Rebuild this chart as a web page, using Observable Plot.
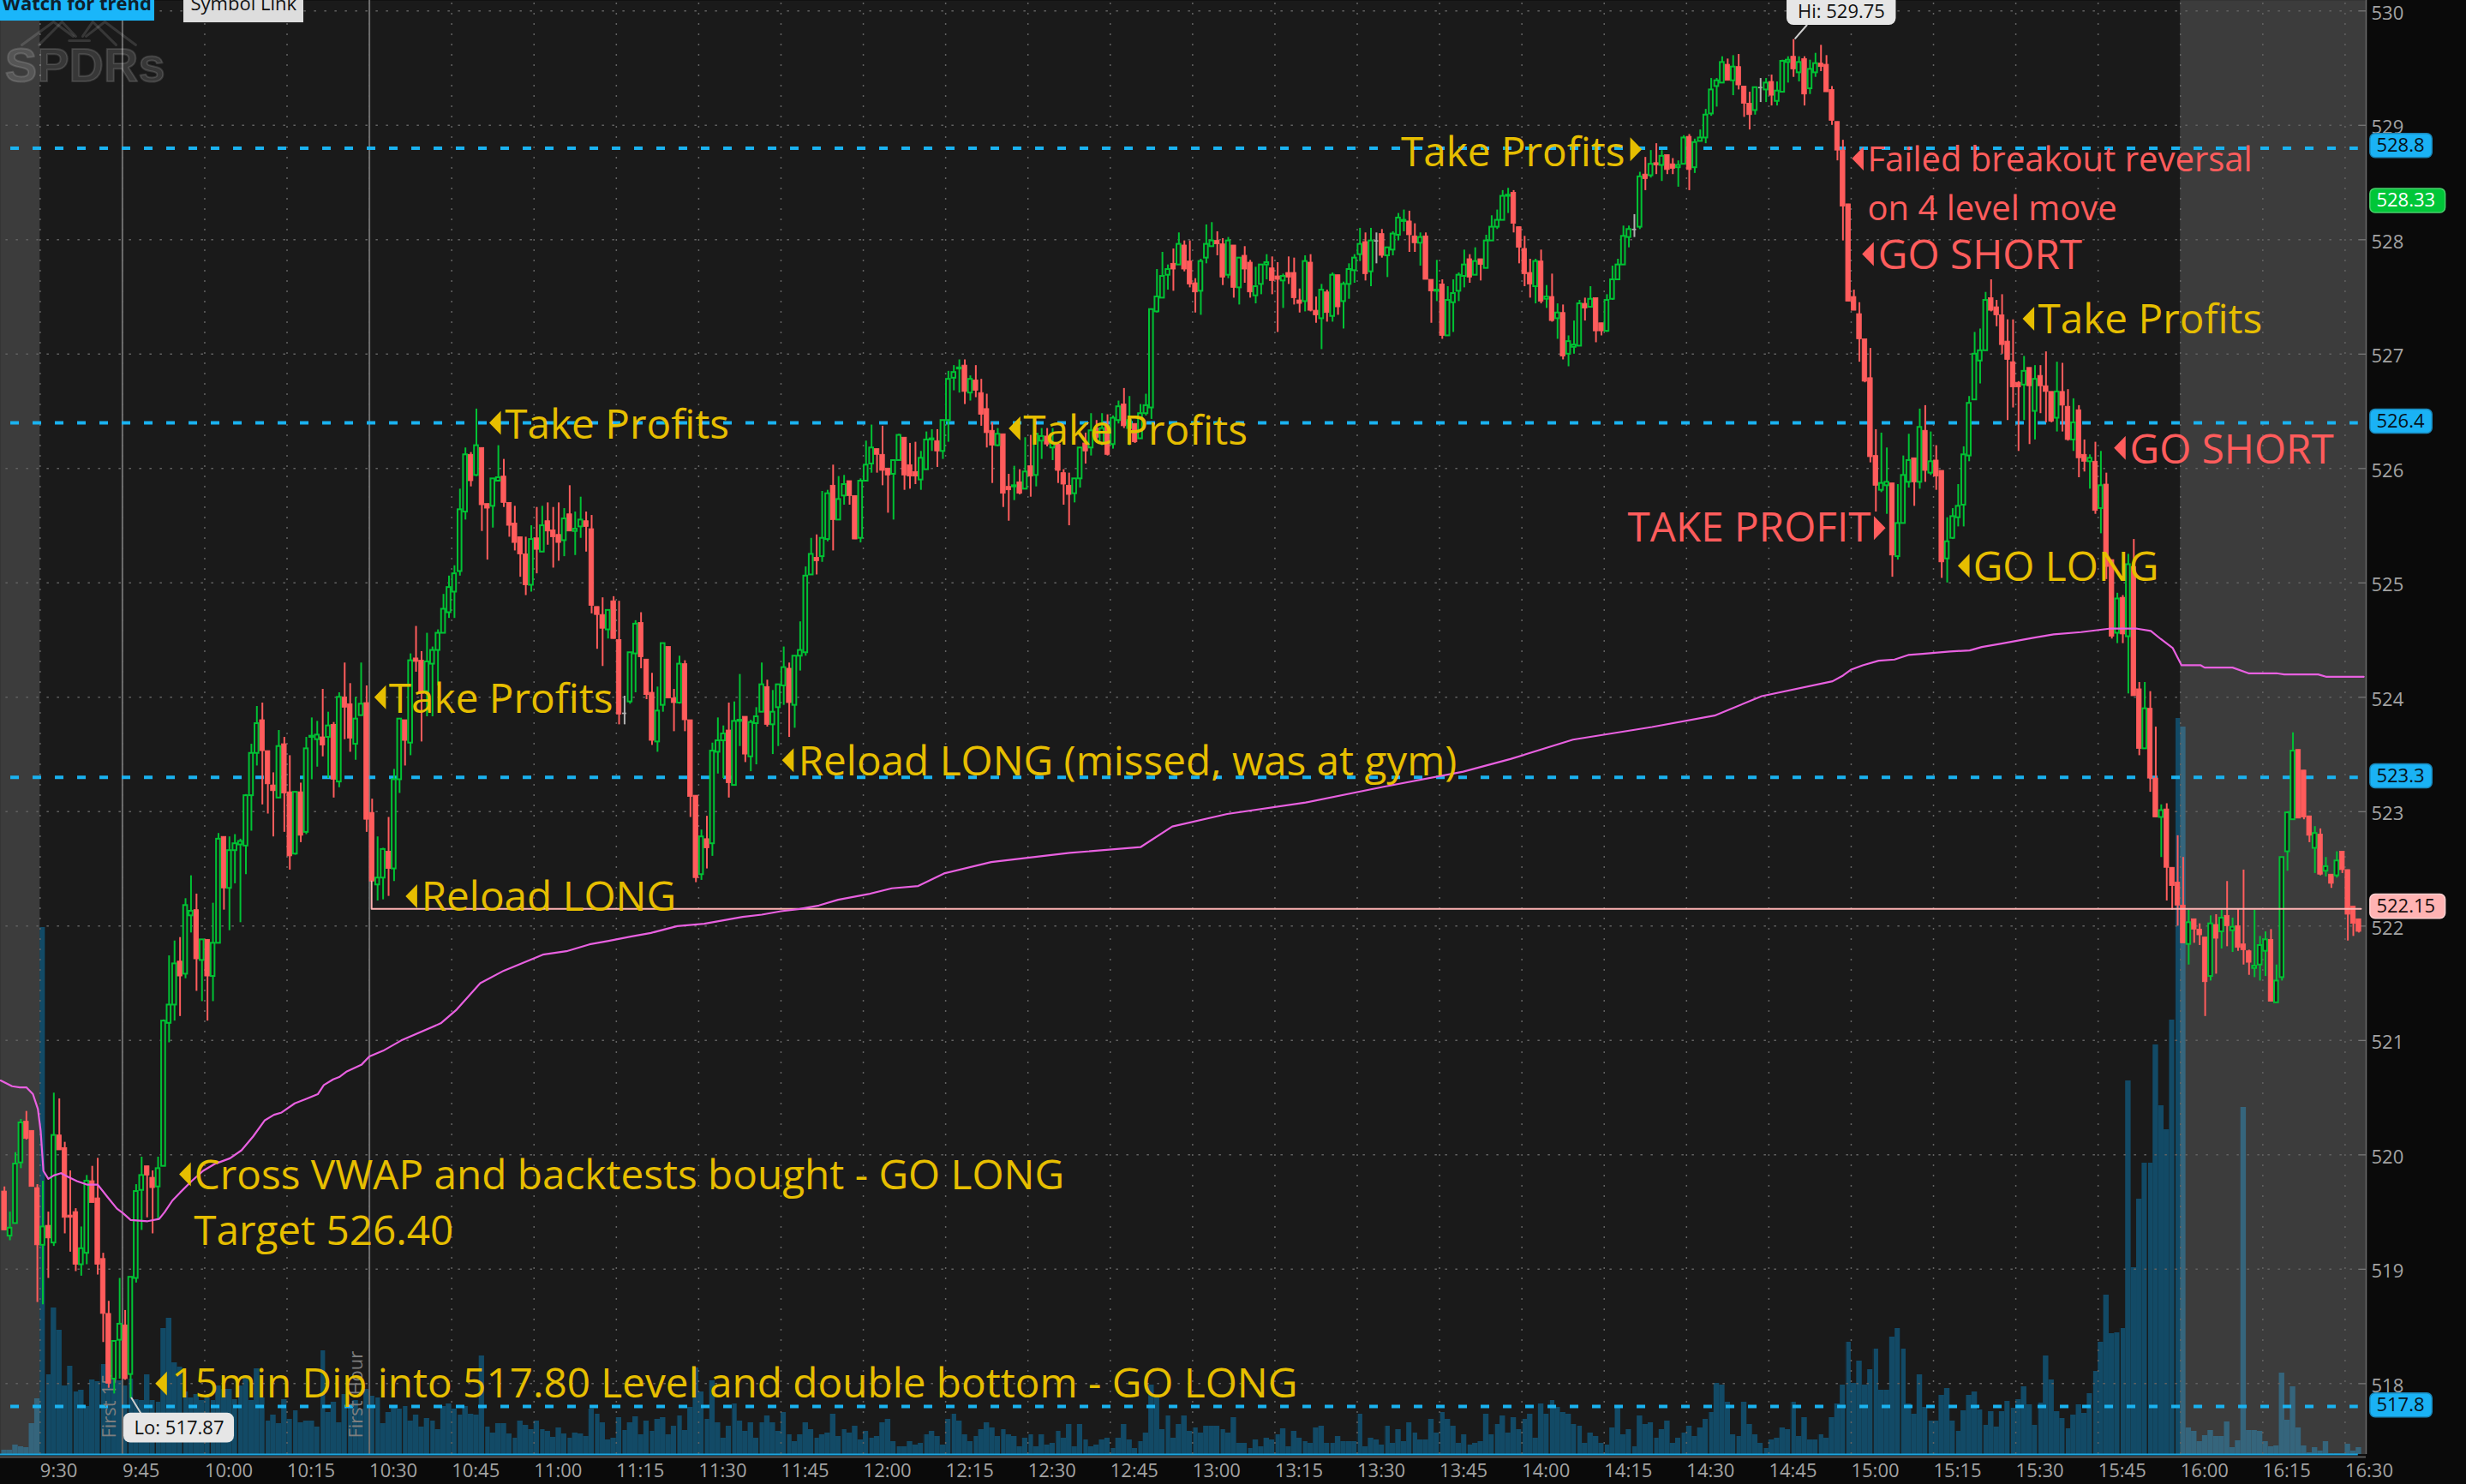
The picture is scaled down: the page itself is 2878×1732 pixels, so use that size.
<!DOCTYPE html>
<html><head><meta charset="utf-8">
<style>html,body{margin:0;padding:0;background:#0a0a0a}svg{display:block}</style>
<script src="https://cdn.jsdelivr.net/npm/d3@7"></script>
<script src="https://cdn.jsdelivr.net/npm/@observablehq/plot@0.6"></script>
</head><body><div id="chart"></div>
<script>
// Minutes after 9:30 of the first bar
const firstMinute = -7;
const opens = [519.68,519.29,519.40,519.93,520.29,520.21,519.71,
519.21,519.38,519.23,520.17,520.06,519.47,519.50,519.04,519.14,519.77,
519.62,519.09,518.61,518.04,518.38,518.51,518.08,518.92,519.69,519.90,
519.80,519.72,519.90,521.15,521.31,521.69,521.58,522.09,522.14,521.70,
521.88,521.56,521.85,522.78,522.33,522.66,522.71,522.70,523.14,523.51,
523.80,523.53,523.23,523.12,523.59,523.17,522.63,523.17,522.82,523.65,
523.63,523.65,523.65,523.76,523.26,524.00,523.94,523.59,523.84,523.95,
522.99,522.36,522.42,522.65,522.50,523.28,523.80,523.60,524.34,524.32,
524.05,524.29,524.41,524.56,524.74,524.92,525.10,525.62,526.12,525.94,
526.18,525.69,525.67,525.89,525.93,525.70,525.52,525.40,525.25,524.98,
525.39,525.27,525.54,525.46,525.42,525.37,525.60,525.45,525.49,525.54,
525.47,524.79,524.72,524.59,524.84,524.50,523.86,523.96,524.38,524.65,
524.33,524.04,523.61,523.93,524.44,523.99,523.95,524.29,523.80,523.14,
522.45,522.76,522.72,523.52,523.62,523.71,523.23,523.79,523.83,523.48,
523.77,523.87,524.09,523.76,523.91,524.10,524.25,523.93,524.36,524.39,
525.07,525.22,525.23,525.38,525.85,525.55,525.76,525.89,525.76,525.39,
525.89,526.04,526.17,526.12,526.00,525.95,526.07,526.27,526.03,525.97,
525.90,525.99,526.25,526.24,526.15,526.42,526.79,526.87,526.90,526.66,
526.77,526.66,526.52,526.33,526.20,526.30,525.84,525.84,525.88,525.82,
526.02,525.94,526.24,526.28,526.18,526.21,525.96,525.85,525.78,525.91,
526.22,526.18,526.35,526.22,526.37,526.21,526.42,526.56,526.35,526.39,
526.26,526.48,526.53,527.37,527.49,527.69,527.79,527.78,527.95,527.81,
527.62,527.55,527.84,527.94,527.99,527.96,527.69,527.95,527.58,527.86,
527.80,527.51,527.61,527.78,527.75,527.68,527.64,527.71,527.71,527.47,
527.46,527.80,527.38,527.31,527.54,527.33,527.69,527.46,527.61,527.73,
527.87,527.98,527.72,527.99,528.05,527.86,527.91,528.04,528.16,528.16,
528.03,527.97,528.03,527.65,527.55,527.61,527.16,527.45,527.55,527.68,
527.83,527.69,527.83,527.75,527.99,528.11,528.17,528.38,528.41,528.11,
527.92,527.71,527.59,527.81,527.48,527.50,527.31,527.36,527.00,527.06,
527.07,527.44,527.41,527.49,527.27,527.20,527.48,527.65,527.78,528.02,
528.09,528.11,528.57,528.56,528.67,528.65,528.74,528.66,528.63,528.66,
528.90,528.63,528.86,528.89,529.10,529.34,529.37,529.53,529.39,529.51,
529.34,529.19,529.13,529.33,529.31,529.38,529.21,529.29,529.55,529.60,
529.46,529.58,529.32,529.46,529.54,529.53,529.31,529.03,528.78,528.31,
527.50,527.35,527.13,526.79,526.11,525.81,525.85,525.87,525.23,525.52,
525.88,526.09,525.88,526.33,525.96,526.07,525.98,525.21,525.39,525.57,
525.68,526.11,526.60,526.94,527.03,527.49,527.41,527.34,527.11,526.93,
526.75,526.73,526.88,526.50,526.81,526.72,526.67,526.44,526.67,526.54,
526.25,526.51,526.12,526.06,526.06,525.65,525.86,525.20,524.56,524.87,
524.53,525.14,524.07,523.55,523.90,523.29,522.95,523.02,522.51,522.38,
522.18,521.84,522.06,521.97,521.90,521.56,522.01,521.95,522.09,521.96,
522.00,521.84,521.78,521.63,521.66,521.78,521.88,521.33,521.55,522.65,
522.93,523.54,523.36,522.96,522.68,522.80,522.48,522.45,522.44,522.65,
522.49,522.17,522.06];
const closes = [519.34,519.36,519.92,520.28,520.14,519.72,519.21,
519.37,519.27,520.17,520.04,519.45,519.45,519.04,519.18,519.77,519.58,
519.04,518.61,518.00,518.37,518.52,518.04,518.93,519.68,519.82,519.82,
519.71,519.88,521.17,521.31,521.67,521.56,522.18,522.13,521.71,521.88,
521.56,521.85,522.76,522.33,522.66,522.72,522.74,523.14,523.51,523.77,
523.53,523.24,523.18,523.57,523.16,522.61,523.17,522.79,523.55,523.66,
523.67,523.58,523.75,523.28,524.00,523.91,523.64,523.81,523.94,522.93,
522.39,522.42,522.67,522.50,523.28,523.81,523.62,524.32,524.31,524.03,
524.31,524.41,524.56,524.77,524.96,525.08,525.64,526.12,525.89,526.20,
525.68,525.65,525.91,525.92,525.70,525.50,525.35,525.25,524.98,525.38,
525.29,525.50,525.45,525.40,525.35,525.56,525.45,525.47,525.55,525.49,
524.80,524.72,524.60,524.76,524.51,523.85,523.86,524.39,524.64,524.35,
524.02,523.62,523.88,524.47,523.99,523.95,524.29,523.80,523.13,522.42,
522.78,522.68,523.53,523.62,523.68,523.25,523.79,523.80,523.50,523.78,
523.83,524.11,523.76,523.87,524.11,524.26,523.95,524.36,524.41,525.06,
525.25,525.19,525.39,525.78,525.55,525.73,525.86,525.76,525.38,525.89,
526.03,526.18,526.12,525.98,525.94,526.07,526.29,525.94,525.93,525.93,
526.09,526.25,526.26,526.15,526.42,526.78,526.84,526.88,526.67,526.78,
526.68,526.47,526.31,526.20,526.30,525.78,525.81,525.85,525.78,525.97,
525.93,526.30,526.28,526.21,526.22,525.98,525.86,525.77,525.91,526.18,
526.15,526.33,526.27,526.35,526.12,526.44,526.54,526.37,526.42,526.23,
526.48,526.55,527.39,527.50,527.68,527.74,527.74,527.96,527.74,527.61,
527.54,527.81,527.96,527.99,527.96,527.67,527.99,527.58,527.84,527.74,
527.54,527.59,527.78,527.80,527.64,527.65,527.68,527.67,527.49,527.44,
527.81,527.38,527.34,527.56,527.36,527.69,527.41,527.61,527.74,527.84,
527.96,527.70,527.99,527.99,527.86,527.93,528.05,528.19,528.17,528.04,
527.97,528.02,527.65,527.55,527.56,527.16,527.47,527.53,527.69,527.78,
527.67,527.81,527.78,527.99,528.11,528.17,528.38,528.39,528.14,527.93,
527.70,527.61,527.81,527.46,527.50,527.29,527.36,526.98,527.11,527.08,
527.44,527.40,527.48,527.20,527.20,527.47,527.65,527.78,528.03,528.09,
528.09,528.55,528.53,528.66,528.65,528.73,528.61,528.62,528.65,528.89,
528.61,528.85,528.89,529.09,529.31,529.39,529.55,529.39,529.51,529.35,
529.19,529.09,529.33,529.33,529.37,529.26,529.30,529.56,529.57,529.49,
529.55,529.27,529.49,529.54,529.51,529.29,529.04,528.78,528.29,527.46,
527.38,527.13,526.76,526.10,525.85,525.87,525.88,525.24,525.52,525.94,
526.07,525.88,526.36,525.98,526.06,525.93,525.18,525.36,525.58,525.67,
526.12,526.57,527.00,527.03,527.47,527.38,527.34,527.08,526.95,526.71,
526.71,526.85,526.72,526.78,526.72,526.67,526.41,526.67,526.55,526.25,
526.40,526.09,526.06,526.09,525.63,525.85,525.14,524.53,524.86,524.55,
525.16,524.01,523.55,523.90,523.29,522.95,523.01,522.51,522.35,522.18,
521.85,522.03,521.97,521.92,521.51,522.02,521.89,522.07,522.00,521.99,
521.81,521.79,521.68,521.65,521.83,521.88,521.34,521.52,522.60,522.99,
523.53,522.94,522.95,522.79,522.81,522.45,522.52,522.37,522.57,522.49,
522.10,522.02,521.95];
const highs = [519.72,519.50,520.02,520.31,520.38,520.21,519.74,
519.77,519.50,520.54,520.49,520.11,519.86,519.53,519.37,519.82,519.90,
519.97,519.14,518.72,518.37,518.92,518.64,518.93,519.74,519.98,519.90,
519.86,519.98,521.18,521.74,521.87,521.90,522.24,522.44,522.28,521.88,
521.88,522.20,522.81,522.78,522.78,522.80,522.76,523.15,523.59,523.92,
523.95,523.53,523.34,523.71,523.65,523.49,523.17,523.25,523.65,523.82,
523.79,524.07,523.87,523.78,524.04,524.30,524.12,524.00,524.30,524.10,
523.11,522.78,522.68,522.95,523.37,523.81,523.80,524.38,524.62,524.40,
524.56,524.44,524.59,524.90,525.06,525.15,525.82,526.18,526.14,526.52,
526.18,525.69,525.91,526.20,526.08,525.70,525.67,525.40,525.40,525.50,
525.66,525.67,525.70,525.66,525.70,525.65,525.85,525.62,525.75,525.62,
525.59,524.79,524.87,524.76,524.88,524.84,524.01,524.39,524.67,524.74,
524.33,524.21,524.09,524.47,524.44,524.07,524.36,524.32,523.80,523.14,
522.84,522.96,523.60,523.82,523.75,523.95,523.96,524.20,523.83,523.80,
523.91,524.30,524.15,524.06,524.11,524.44,524.30,524.36,524.66,525.14,
525.39,525.42,525.80,525.81,526.03,525.93,525.94,525.89,525.76,525.91,
526.24,526.38,526.17,526.37,526.00,526.07,526.30,526.27,526.22,526.23,
526.15,526.32,526.34,526.34,526.42,526.85,526.90,526.95,526.95,526.81,
526.90,526.78,526.65,526.40,526.35,526.30,525.95,526.02,525.99,526.27,
526.29,526.30,526.35,526.35,526.35,526.21,525.99,525.96,525.91,526.18,
526.31,526.48,526.42,526.48,526.47,526.46,526.59,526.70,526.63,526.39,
526.56,526.65,527.39,527.74,527.89,527.78,527.92,528.06,527.99,527.99,
527.66,527.83,528.13,528.15,528.07,528.01,528.02,527.95,527.84,527.94,
527.82,527.76,527.78,527.87,527.85,527.80,527.70,527.85,527.84,527.57,
527.86,527.87,527.50,527.61,527.56,527.71,527.69,527.63,527.79,527.87,
528.10,528.06,528.10,528.06,528.09,527.93,528.07,528.23,528.26,528.25,
528.14,528.06,528.06,527.65,527.82,527.65,527.59,527.65,527.71,527.91,
527.87,527.93,527.83,528.04,528.21,528.26,528.43,528.45,528.43,528.11,
528.03,527.83,527.83,527.91,527.60,527.70,527.44,527.43,527.16,527.29,
527.47,527.49,527.59,527.49,527.27,527.52,527.77,527.83,528.12,528.12,
528.22,528.59,528.72,528.78,528.84,528.78,528.74,528.71,528.69,528.91,
528.92,528.88,528.96,529.14,529.41,529.41,529.60,529.58,529.61,529.62,
529.34,529.29,529.33,529.41,529.41,529.44,529.38,529.57,529.60,529.75,
529.60,529.60,529.57,529.63,529.70,529.61,529.34,529.03,528.87,528.31,
527.56,527.45,527.13,527.05,526.34,526.31,526.18,525.87,525.86,526.11,
526.30,526.09,526.52,526.55,526.32,526.20,525.98,525.57,525.65,525.86,
526.19,526.63,527.19,527.22,527.54,527.65,527.47,527.52,527.30,527.30,
526.76,526.98,526.88,526.90,526.90,527.02,526.67,526.93,526.92,526.69,
526.61,526.55,526.25,526.12,526.23,526.15,525.96,525.20,524.91,524.89,
525.25,525.38,524.13,524.13,524.05,523.74,523.06,523.07,522.51,522.79,
522.60,522.14,522.06,522.02,521.90,522.09,522.10,522.14,522.39,522.07,
522.15,522.49,521.79,522.14,521.91,521.95,521.97,521.66,522.60,523.00,
523.69,523.54,523.36,522.96,522.87,522.85,522.60,522.45,522.65,522.65,
522.49,522.17,522.06];
const lows = [519.34,519.25,519.40,519.88,520.13,519.72,518.71,
518.69,518.92,519.20,520.04,519.31,519.15,518.98,518.94,519.04,519.58,
518.95,518.36,517.96,517.91,518.04,518.03,517.87,518.88,519.34,519.45,
519.31,519.43,519.90,520.98,521.17,521.21,521.54,521.94,521.43,521.34,
521.17,521.34,521.85,522.14,521.96,522.37,522.03,522.45,522.83,523.40,
523.06,522.98,522.78,523.12,522.82,522.49,522.62,522.73,522.80,523.28,
523.39,523.48,523.29,523.12,523.21,523.63,523.52,523.45,523.84,522.82,
522.39,522.22,522.23,522.26,522.39,523.16,523.40,523.49,524.22,523.61,
523.83,523.83,524.10,524.56,524.69,524.69,525.06,525.55,525.84,525.93,
525.45,525.20,525.48,525.89,525.66,525.40,525.28,525.05,524.89,524.92,
525.08,525.27,525.33,525.13,525.19,525.23,525.45,525.24,525.39,525.27,
524.73,524.42,524.27,524.51,524.51,523.76,523.76,523.94,524.04,524.25,
523.98,523.58,523.52,523.87,523.99,523.70,523.94,523.70,522.95,522.38,
522.40,522.50,522.61,523.33,523.29,523.12,523.23,523.57,523.43,523.35,
523.41,523.87,523.74,523.50,523.57,523.93,523.65,523.73,524.23,524.36,
525.07,525.07,525.18,525.36,525.28,525.55,525.68,525.68,525.38,525.35,
525.89,525.96,525.96,525.85,525.61,525.55,526.07,525.81,525.82,525.86,
525.81,525.99,526.15,526.01,526.08,526.23,526.68,526.66,526.56,526.59,
526.62,526.37,526.18,525.87,526.19,525.66,525.54,525.72,525.77,525.82,
525.75,525.84,526.08,526.19,526.07,525.87,525.68,525.50,525.70,525.83,
526.04,526.11,526.25,526.20,526.11,526.17,526.39,526.35,526.20,526.22,
526.26,526.46,526.43,527.36,527.49,527.56,527.55,527.78,527.72,527.58,
527.36,527.34,527.79,527.94,527.86,527.60,527.66,527.49,527.43,527.62,
527.49,527.44,527.52,527.65,527.52,527.19,527.40,527.61,527.43,527.36,
527.37,527.37,527.27,527.04,527.28,527.28,527.34,527.22,527.48,527.62,
527.81,527.64,527.59,527.79,527.84,527.67,527.86,527.99,528.07,527.89,
527.89,527.77,527.65,527.27,527.46,527.13,527.16,527.19,527.46,527.58,
527.62,527.69,527.64,527.75,527.99,528.09,528.17,528.23,528.06,527.79,
527.59,527.49,527.44,527.44,527.40,527.28,527.13,526.95,526.89,527.00,
527.07,527.29,527.41,527.10,527.16,527.19,527.47,527.65,527.78,527.93,
528.02,528.09,528.43,528.54,528.57,528.51,528.57,528.57,528.46,528.66,
528.43,528.58,528.86,528.84,529.08,529.16,529.37,529.39,529.26,529.31,
529.07,528.96,529.09,529.20,529.20,529.17,529.17,529.29,529.37,529.42,
529.38,529.17,529.27,529.42,529.47,529.29,529.00,528.69,527.99,527.46,
527.38,526.93,526.75,526.05,525.62,525.79,525.60,525.05,525.20,525.52,
525.83,525.67,525.82,525.88,525.94,525.81,525.04,525.00,525.38,525.49,
525.49,526.06,526.60,526.74,527.03,527.37,527.24,527.00,526.42,526.53,
526.15,526.42,526.21,526.25,526.48,526.40,526.40,526.32,526.32,526.24,
526.15,525.92,525.97,525.82,525.60,525.43,525.03,524.51,524.47,524.47,
524.03,524.01,523.49,523.55,523.17,522.95,522.60,522.22,522.14,522.00,
521.85,521.66,521.85,521.83,521.21,521.52,521.58,521.80,521.82,521.77,
521.78,521.66,521.57,521.55,521.52,521.56,521.34,521.33,521.52,522.48,
522.93,522.94,522.93,522.73,522.46,522.44,522.43,522.33,522.42,522.46,
521.87,521.91,521.94];
const volumes = [5,5,11,9,8,36,65,
615,93,171,145,80,103,73,75,56,87,
85,105,85,88,86,80,88,64,63,93,
63,61,147,159,107,102,73,66,70,63,
66,63,80,76,76,64,80,90,63,100,
66,39,46,36,64,41,51,37,39,39,
32,121,49,61,37,70,58,63,53,76,
68,66,36,49,56,53,56,39,46,32,
42,39,29,56,59,53,46,56,47,46,
115,32,25,36,36,24,19,39,34,29,
39,29,27,20,31,24,19,25,24,21,
53,47,37,17,19,43,28,37,44,23,
39,27,41,43,23,33,45,28,55,101,
73,41,86,37,19,33,59,39,27,37,
19,37,45,37,27,49,23,15,23,37,
29,19,23,25,47,21,29,25,33,17,
27,19,21,37,41,15,9,9,15,11,
13,23,27,21,11,41,47,39,23,15,
21,29,37,31,21,29,23,21,9,19,
23,9,23,11,13,27,19,35,9,35,
17,9,11,17,19,7,19,35,17,7,
15,25,81,67,29,45,19,35,45,27,
31,25,33,33,33,29,25,43,13,13,
7,17,9,19,17,23,30,9,27,19,
15,13,31,33,13,13,21,15,15,15,
47,9,19,17,11,33,13,29,15,37,
25,17,17,41,25,49,41,33,13,23,
11,13,15,47,23,35,45,25,43,29,
41,47,19,59,47,63,55,49,47,35,
33,13,25,21,13,11,31,55,23,29,
9,45,35,37,19,29,39,13,19,25,
33,21,31,41,49,83,81,61,23,21,
61,35,23,13,7,17,19,31,29,61,
21,43,17,17,23,19,43,59,81,131,
83,109,81,99,123,75,75,137,147,123,
59,47,93,55,39,39,69,77,39,27,
51,69,73,52,34,50,32,50,62,54,
64,79,58,34,60,115,87,50,42,30,
46,58,48,71,97,131,186,141,142,147,
436,218,298,340,340,478,407,379,507,859,
849,31,27,15,22,28,21,21,38,8,
16,405,28,28,27,15,9,10,95,40,
79,31,10,2,8,4,15,1,1,1,
12,4,8];

const vwapMinutes = [-7.2,-5.1,-3.7,-2.5,-1.3,-0.4,0.1,0.6,1.5,2.5,3.8,5,6.7,8.5,10.5,12.3,14,15.1,16.5,19.6,21.7,22.7,24.1,25.5,27.6,29.7,31.8,34.6,36.7,38.8,40.9,42.6,44,46.4,48.5,50.6,51.7,53.4,54.5,55.9,58.6,60,62.5,65.8,73,75.9,80.2,84.5,91.6,95.9,100.1,103.6,107.8,111.3,116.1,121,128,131.5,135,138.4,141.9,145.4,151,155.2,160,164.7,173.3,187.6,200.5,206.3,216.3,230.6,245,259.3,267.9,279.3,293.7,305.1,313.7,326.6,328.5,329.9,332.1,335,337.9,340.4,343,348,351.6,353.8,357.4,363.2,366.9,371.9,377,382.1,384.6,386.4,388.6,390.2,393.7,394.4,399.5,402.4,407.5,408.9,415.1,416.5,423.4];
const vwapPrices = [520.65,520.60,520.59,520.59,520.53,520.40,520.21,519.86,519.79,519.82,519.84,519.81,519.77,519.74,519.74,519.63,519.53,519.49,519.43,519.42,519.44,519.50,519.60,519.67,519.77,519.86,519.92,519.97,520.04,520.16,520.30,520.35,520.37,520.45,520.49,520.53,520.61,520.66,520.68,520.73,520.79,520.86,520.91,521.00,521.15,521.27,521.50,521.61,521.75,521.78,521.84,521.87,521.91,521.94,522.00,522.02,522.08,522.10,522.13,522.15,522.18,522.23,522.28,522.33,522.35,522.46,522.56,522.64,522.69,522.87,522.98,523.08,523.22,523.35,523.46,523.63,523.74,523.84,524.01,524.14,524.19,524.24,524.28,524.32,524.33,524.37,524.38,524.40,524.41,524.44,524.47,524.52,524.55,524.57,524.60,524.60,524.58,524.51,524.43,524.28,524.28,524.26,524.26,524.21,524.21,524.20,524.20,524.18,524.18];

const levels = [528.8,526.4,523.3,517.8];
const supportLevel = 522.15;
const priceTicks = [518,519,520,521,522,523,524,525,526,527,528,529,530];
const timeTicks = d3.range(0,421,15);
const timeLabels = ["9:30","9:45","10:00","10:15","10:30","10:45","11:00","11:15","11:30","11:45","12:00","12:15","12:30","12:45","13:00","13:15","13:30","13:45","14:00","14:15","14:30","14:45","15:00","15:15","15:30","15:45","16:00","16:15","16:30"];

const YEL = "#e6be00", RED = "#ff5c5c";
const noteTexts   = ["Take Profits","Failed breakout reversal","on 4 level move","GO SHORT","Take Profits","GO SHORT","TAKE PROFIT","GO LONG","Take Profits","Take Profits","Reload LONG","Reload LONG (missed, was at gym)","Take Profits","Cross VWAP and backtests bought - GO LONG","Target 526.40","15min Dip into 517.80 Level and double bottom - GO LONG"];
const noteMinutes = [288.8,332.97,332.97,334.9,364.05,380.75,333.6,352.2,84.7,63.55,69.45,138.15,179.15,28.1,28.0,23.95];
const notePrices  = [528.76,528.69,528.27,527.855,527.295,526.155,525.475,525.135,526.375,523.975,522.245,523.435,526.325,519.815,519.325,517.99];
const noteSizes   = [47.7,40,40,47.7,47.7,47.7,47.7,47.7,47.7,47.7,47.7,47.7,47.7,47.7,47.7,47.7];
const noteColors  = [YEL,RED,RED,RED,YEL,RED,RED,YEL,YEL,YEL,YEL,YEL,YEL,YEL,YEL,YEL];
const noteAnchors = ["end","start","start","start","start","start","end","start","start","start","start","start","start","start","start","start"];
const arrowMinutes= [290.8,331.2,333.05,362.3,378.95,335.2,350.5,82.9,61.95,67.65,136.25,177.55,26.4,22.05];
const arrowPrices = [528.79,528.71,527.875,527.31,526.18,525.48,525.15,526.40,524.0,522.26,523.45,526.35,519.83,518.0];
const arrowColors = [YEL,RED,RED,YEL,RED,RED,YEL,YEL,YEL,YEL,YEL,YEL,YEL,YEL];
const arrowRight  = [true,false,false,false,false,true,false,false,false,false,false,false,false,false];

const tagValues = ["528.8","528.33","526.4","523.3","522.15","517.8"];
const tagPrices = [528.82,528.34,526.41,523.31,522.17,517.81];
const tagEnds   = [435.9,438.3,435.9,435.9,438.3,435.9];
const tagFills  = ["#1ab2f5","#00c638","#1ab2f5","#1ab2f5","#ffb3b3","#1ab2f5"];
const tagEdges  = ["#1a86b8","#4ad06c","#1a86b8","#1a86b8","#ffd0d0","#1a86b8"];
const tagInks   = ["#06121a","#ffffff","#06121a","#06121a","#1a1010","#06121a"];

const xMin = -7.229, xMax = 423.84, yBase = 517.381, yTop = 530.092, pxPerDollar = 133.5;
const UP="#00c234", DOWN="#ff5c5c", DOJI="#b0b0b0", BG="#1a1a1a";

const candles = opens.map((o,i)=>({m:firstMinute+i,o,h:highs[i],l:lows[i],c:closes[i],v:volumes[i]}));
const colorOf = d => d.o===d.c ? DOJI : d.c>d.o ? UP : DOWN;
const upBars = candles.filter(d=>d.c>d.o), downBars = candles.filter(d=>d.c<d.o), dojiBars = candles.filter(d=>d.c===d.o);
const vwap = vwapMinutes.map((m,i)=>({m,p:vwapPrices[i]}));
const notes = noteTexts.map((t,i)=>({t,m:noteMinutes[i],p:notePrices[i],col:noteColors[i],a:noteAnchors[i],size:noteSizes[i]}));
const arrows = arrowMinutes.map((m,i)=>({m,p:arrowPrices[i],col:arrowColors[i],right:arrowRight[i]}));
const tags = tagValues.map((t,i)=>({t,p:tagPrices[i],end:tagEnds[i],f:tagFills[i],e:tagEdges[i],k:tagInks[i]}));
const byMinute = new Map(candles.map(d=>[d.m,d.v]));
const gapMinutes = [...d3.range(1,167,5),...d3.range(170,291,5),...d3.range(294,390,5)];
const gaps = gapMinutes.map(m=>({m,v:Math.max(byMinute.get(m-1)||0,byMinute.get(m)||0)}));
const pointLeft = {draw(c){c.moveTo(-6.8,0);c.lineTo(6.8,-14);c.lineTo(6.8,14);c.closePath();}};
const pointRight = {draw(c){c.moveTo(6.8,0);c.lineTo(-6.8,-14);c.lineTo(-6.8,14);c.closePath();}};
const FONT = "'Open Sans','Noto Sans',sans-serif";
// spider of the watermark, in chart units
const spiderLegs = [
  [[-3.33,529.703],[2.45,529.905],[6.04,529.778]],
  [[-0.2,529.703],[4.0,529.905],[6.5,529.778]],
  [[17.44,529.703],[11.8,529.905],[8.38,529.778]],
  [[13.85,529.703],[9.6,529.905],[7.76,529.778]],
  [[5.3,529.74],[9.0,529.74]]
].flatMap((leg,k)=>leg.map(([m,p])=>({m,p,k})));

const chart = Plot.plot({
  width:2878, height:1732, marginLeft:0, marginRight:117, marginTop:0, marginBottom:35,
  x:{domain:[xMin,xMax], range:[0,2761]},
  y:{domain:[yBase,yTop], range:[1697,0]},
  style:{background:"#0a0a0a", fontFamily:FONT, overflow:"hidden"},
  marks:[
    Plot.frame({fill:BG, stroke:null}),
    Plot.rect(candles,{x1:d=>d.m,x2:d=>d.m+1,y1:yBase,y2:d=>yBase+d.v/pxPerDollar,fill:"#124a66"}),
    Plot.ruleX(gaps,{x:"m",y1:yBase,y2:d=>yBase+d.v/pxPerDollar,stroke:BG,strokeWidth:1.3}),
    Plot.rect([[xMin,0],[390,xMax]],{x1:d=>d[0],x2:d=>d[1],y1:yBase,y2:yTop,fill:"#ffffff",fillOpacity:0.15}),
    Plot.ruleY(priceTicks,{x1:xMin+1,x2:xMax-1.3,stroke:"#626262",strokeWidth:1.5,strokeDasharray:"2.5,9.5"}),
    Plot.ruleX(timeTicks,{y1:yBase,y2:yTop,stroke:"#626262",strokeWidth:1.5,strokeDasharray:"2,10"}),
    Plot.ruleY(priceTicks,{x1:xMax-1.36,x2:xMax,stroke:"#777",strokeWidth:1.3}),
    Plot.ruleX([15,60],{y1:yBase,y2:yTop,stroke:"#6e6e6e",strokeWidth:2}),
    Plot.ruleX([xMax],{y1:yBase,y2:yTop,stroke:"#6a6a6a",strokeWidth:1.5}),
    Plot.ruleY([yBase],{x1:xMin,x2:422.4,stroke:"#1aa5e0",strokeWidth:2}),
    Plot.ruleY([517.358],{x1:xMin,x2:xMax,stroke:"#5a5a5a",strokeWidth:2}),
    Plot.ruleY(levels,{x1:-5.35,x2:422.4,stroke:"#1ab2f0",strokeWidth:4,strokeDasharray:"10,16"}),
    // watermark
    Plot.text(["SPDRs"],{x:-6.4,y:529.515,text:d=>d,textAnchor:"start",fontSize:56,fontWeight:900,fontFamily:"'Liberation Sans',sans-serif",fill:"#ffffff",fillOpacity:0.13,stroke:"#ffffff",strokeOpacity:0.13,strokeWidth:2}),
    Plot.line(spiderLegs,{x:"m",y:"p",z:"k",stroke:"#ffffff",strokeOpacity:0.13,strokeWidth:3,curve:"linear"}),
    Plot.text(["First 15","First Hour"],{x:d=>d==="First 15"?12.6:57.7,y:517.523,text:d=>d,rotate:-90,textAnchor:"start",fontSize:22,fill:"#7e7e7e"}),
    // candles
    Plot.ruleX(candles,{x:d=>d.m+0.5,y1:"l",y2:"h",stroke:colorOf,strokeWidth:2}),
    Plot.rect(downBars,{x1:d=>d.m+0.07,x2:d=>d.m+0.93,y1:"o",y2:"c",fill:DOWN,stroke:DOWN,strokeWidth:0.8}),
    Plot.rect(upBars,{x1:d=>d.m+0.14,x2:d=>d.m+0.86,y1:"o",y2:"c",fill:BG,stroke:UP,strokeWidth:2}),
    Plot.ruleY(dojiBars,{x1:d=>d.m+0.12,x2:d=>d.m+0.88,y:"o",stroke:DOJI,strokeWidth:1.7}),
    Plot.line([{m:60.4,p:522.39},{m:60.4,p:supportLevel},{m:422.9,p:supportLevel}],{x:"m",y:"p",stroke:"#ffb3b3",strokeWidth:2,curve:"linear"}),
    Plot.line(vwap,{x:"m",y:"p",stroke:"#e860e0",strokeWidth:2.2,curve:"linear"}),
    // annotations
    Plot.text(notes,{x:"m",y:"p",text:"t",textAnchor:"start",filter:d=>d.a==="start",fill:"col",fontSize:d=>d.size,lineAnchor:"middle"}),
    Plot.text(notes,{x:"m",y:"p",text:"t",textAnchor:"end",filter:d=>d.a==="end",fill:"col",fontSize:d=>d.size,lineAnchor:"middle"}),
    Plot.dot(arrows.filter(d=>!d.right),{x:"m",y:"p",fill:"col",symbol:pointLeft,r:10}),
    Plot.dot(arrows.filter(d=>d.right),{x:"m",y:"p",fill:"col",symbol:pointRight,r:10}),
    // hi / lo bubbles
    Plot.line([{m:16.65,p:517.875},{m:18.5,p:517.73}],{x:"m",y:"p",stroke:"#cfcfcf",strokeWidth:2}),
    Plot.rect([0],{x1:15.25,x2:35.4,y1:517.482,y2:517.743,fill:"#e6e6e6",rx:8}),
    Plot.text(["Lo: 517.87"],{x:25.33,y:517.61,text:d=>d,fontSize:22,fill:"#111"}),
    Plot.line([{m:319.8,p:529.76},{m:321.9,p:529.875}],{x:"m",y:"p",stroke:"#cfcfcf",strokeWidth:2}),
    Plot.rect([0],{x1:318.3,x2:338.2,y1:529.875,y2:530.2,fill:"#e6e6e6",rx:8}),
    Plot.text(["Hi: 529.75"],{x:328.2,y:529.99,text:d=>d,fontSize:22,fill:"#111"}),
    // top buttons
    Plot.rect([0],{x1:xMin,x2:20.87,y1:529.912,y2:530.2,fill:"#1ab6fa"}),
    Plot.text(["Watch for trend"],{x:-6.9,y:530.055,text:d=>d,textAnchor:"start",fontSize:22,fontWeight:700,fill:"#10202a"}),
    Plot.rect([0],{x1:26.18,x2:48.04,y1:529.897,y2:530.2,fill:"#dddddd"}),
    Plot.text(["Symbol Link"],{x:27.43,y:530.055,text:d=>d,textAnchor:"start",fontSize:22,fill:"#111"}),
    // axes
    Plot.axisX({ticks:timeTicks,tickFormat:m=>timeLabels[timeTicks.indexOf(m)],anchor:"bottom",tickSize:0,tickPadding:11,textAnchor:"start",label:null,fontSize:22,fill:"#a3a3a3"}),
    Plot.axisY({ticks:priceTicks,tickFormat:d=>String(d),anchor:"right",tickSize:0,tickPadding:6,label:null,fontSize:22,fill:"#a3a3a3",dy:3}),
    // price tags
    Plot.rect(tags,{x1:424.6,x2:"end",y1:d=>d.p-0.105,y2:d=>d.p+0.105,fill:"f",stroke:"e",strokeWidth:1.5,rx:6}),
    Plot.text(tags,{x:425.7,y:"p",text:"t",textAnchor:"start",fontSize:22,fill:"k"})
  ]
});
document.getElementById("chart").append(chart);
</script></body></html>
